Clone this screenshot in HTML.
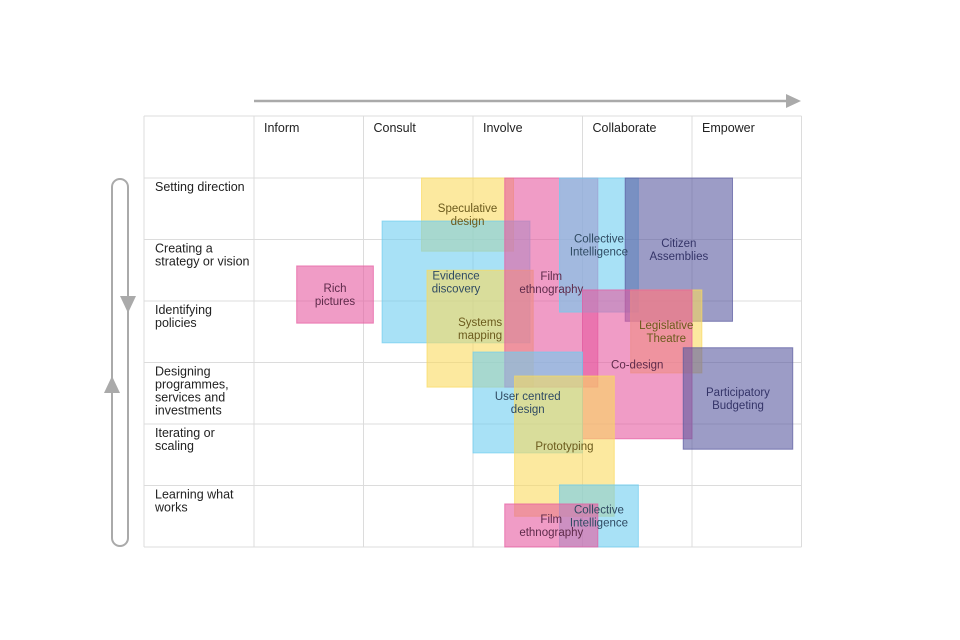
<!DOCTYPE html>
<html><head><meta charset="utf-8"><style>
body{margin:0;background:#fff;}
svg{display:block;font-family:"Liberation Sans",sans-serif;}
</style></head><body>
<svg id="chart" width="960" height="640" viewBox="0 0 960 640"></svg>
<script>
const columns=["Inform","Consult","Involve","Collaborate","Empower"];
const rows=[["Setting direction"],["Creating a","strategy or vision"],["Identifying","policies"],["Designing","programmes,","services and","investments"],["Iterating or","scaling"],["Learning what","works"]];
const methods=[["Speculative","design"],["Evidence","discovery"],["Systems","mapping"],["Film","ethnography"],["Collective","Intelligence"],["Citizen","Assemblies"],["Legislative","Theatre"],["Co-design"],["User centred","design"],["Prototyping"],["Participatory","Budgeting"],["Collective","Intelligence"],["Film","ethnography"],["Rich","pictures"]];
const methodSlugs=["speculative-design","evidence-discovery","systems-mapping","film-ethnography","collective-intelligence","citizen-assemblies","legislative-theatre","co-design","user-centred-design","prototyping","participatory-budgeting","collective-intelligence-learning","film-ethnography-learning","rich-pictures"];
const xStart=[1.53,1.17,1.58,2.29,2.79,3.39,3.44,3.00,2.00,2.38,3.92,2.79,2.29,0.39];
const xEnd=[2.37,2.52,2.55,3.14,3.51,4.37,4.09,4.00,3.00,3.29,4.92,3.51,3.14,1.09];
const yStart=[0,0.70,1.50,0,0,0,1.82,1.82,2.83,3.22,2.76,4.99,5.30,1.43];
const yEnd=[1.19,2.68,3.40,3.40,2.18,2.33,3.17,4.24,4.47,5.50,4.41,6.0,6.0,2.36];
const methodColor=["y","c","y","p","c","v","y","p","c","y","v","c","p","p"];
const fill={y:"rgb(250,218,95)",c:"rgb(110,205,240)",p:"rgb(230,90,160)",v:"rgb(90,90,160)"};
const ink={y:"#6b5a1c",c:"#2f4a62",p:"#5e2a4a",v:"#343468"};

const NS="http://www.w3.org/2000/svg";
const svg=document.getElementById("chart");
const colW=109.5,rowH=61.5,x0=254,y0=178;
const xs=v=>x0+v*colW, ys=v=>y0+v*rowH;
function mk(t,a,p){const e=document.createElementNS(NS,t);for(const k in a)e.setAttribute(k,a[k]);(p||svg).appendChild(e);return e;}

const grid=mk("g",{});


const vx=[144,254,363.5,473,582.5,692,801.5];
vx.forEach(x=>mk("line",{x1:x,y1:116,x2:x,y2:547,stroke:"#dcdcdc","stroke-width":1},grid));
mk("line",{x1:144,y1:116,x2:801.5,y2:116,stroke:"#dcdcdc"},grid);
for(let i=0;i<=6;i++)mk("line",{x1:144,y1:ys(i),x2:801.5,y2:ys(i),stroke:"#dcdcdc"},grid);

columns.forEach((c,i)=>{const t=mk("text",{x:xs(i)+10,y:132,"font-size":12.5,fill:"#222"});t.textContent=c;

});
rows.forEach((r,i)=>{const t=mk("text",{x:155,y:ys(i)+13,"font-size":12.5,fill:"#222"});


r.forEach((l,j)=>{const s=mk("tspan",{x:155,dy:j?13:0},t);s.textContent=l;});});

methods.forEach((m,i)=>{const k=methodColor[i];
const r=mk("rect",{x:xs(xStart[i]),y:ys(yStart[i]),width:xs(xEnd[i])-xs(xStart[i]),height:ys(yEnd[i])-ys(yStart[i]),fill:fill[k],"fill-opacity":0.6,stroke:fill[k],"stroke-opacity":0.7,"stroke-width":1});

});
methods.forEach((m,i)=>{const k=methodColor[i];
const cx=(xs(xStart[i])+xs(xEnd[i]))/2, cy=(ys(yStart[i])+ys(yEnd[i]))/2;
const t=mk("text",{x:cx,y:cy-(m.length-1)*6.5+4,"font-size":11.5,fill:ink[k],"text-anchor":"middle"});


m.forEach((l,j)=>{const s=mk("tspan",{x:cx,dy:j?13:0},t);s.textContent=l;});});

const ta=mk("g",{});


mk("line",{x1:254,y1:101,x2:788,y2:101,stroke:"#aaa","stroke-width":2.5},ta);
mk("polygon",{points:"786,94 801,101 786,108",fill:"#aaa"},ta);
const lp=mk("g",{});


mk("rect",{x:112,y:179,width:16,height:367,rx:8,ry:8,fill:"none",stroke:"#aaa","stroke-width":2},lp);
mk("polygon",{points:"120,296 136,296 128,313",fill:"#aaa"},lp);
mk("polygon",{points:"104,393 120,393 112,376",fill:"#aaa"},lp);
</script>
</body></html>
